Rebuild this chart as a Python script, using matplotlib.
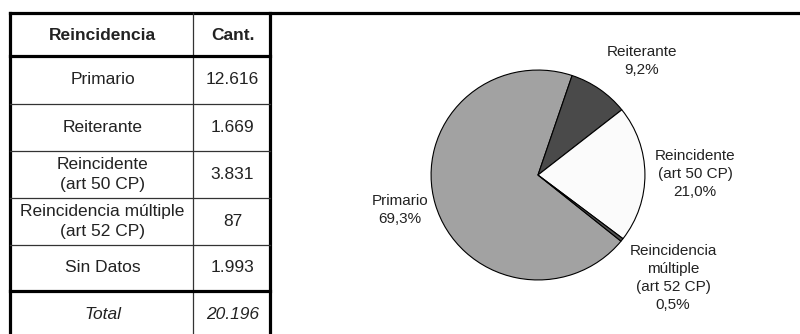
import matplotlib
matplotlib.use("Agg")
import matplotlib.pyplot as plt

plt.rcParams["font.family"] = ["Liberation Sans", "DejaVu Sans"]

# Data
categories = ["Primario", "Reiterante", "Reincidente\n(art 50 CP)",
              "Reincidencia múltiple\n(art 52 CP)", "Sin Datos"]
counts = [12616, 1669, 3831, 87, 1993]
pie_labels = ["Primario", "Reiterante", "Reincidente\n(art 50 CP)",
              "Reincidencia\nmúltiple\n(art 52 CP)"]
pie_counts = counts[:4]
pie_colors = ["#a2a2a2", "#4a4a4a", "#fbfbfb", "#505050"]

W, H = 800, 334
fig = plt.figure(figsize=(W / 100, H / 100), dpi=100)
fig.patch.set_facecolor("white")

# Overlay axes in pixel coordinates for the table and frames
ov = fig.add_axes([0, 0, 1, 1])
ov.set_xlim(0, W)
ov.set_ylim(H, 0)
ov.axis("off")


def thousands(n):
    return f"{n:,}".replace(",", ".")


THICK = 2.3
THIN = 0.9
TXT = "#222222"

# Table geometry
x_left, x_mid, x_right = 10, 193, 270
y_top, y_head = 12.5, 56
row_edges = [56, 104, 151, 198, 245, 291, 340]

# Outer frame of the table and chart panel
ov.plot([x_left, x_left], [y_top, 345], color="black", lw=THICK, solid_capstyle="projecting")
ov.plot([x_right, x_right], [y_top, 345], color="black", lw=THICK, solid_capstyle="projecting")
ov.plot([x_left, W + 5], [y_top, y_top], color="black", lw=THICK, solid_capstyle="projecting")
ov.plot([x_mid, x_mid], [y_top, 345], color="#333333", lw=THIN)
ov.plot([x_left, x_right], [y_head, y_head], color="black", lw=THICK)
for i, y in enumerate(row_edges[1:-1]):
    lw = THICK if i == len(row_edges) - 3 else THIN
    col = "black" if lw == THICK else "#333333"
    ov.plot([x_left, x_right], [y, y], color=col, lw=lw)

cx_l = (x_left + x_mid) / 2 + 1
cx_r = (x_mid + x_right) / 2 + 1
FS_T = 12.5

ov.text(cx_l, 35, "Reincidencia", ha="center", va="center", fontsize=FS_T,
        fontweight="bold", color=TXT)
ov.text(cx_r, 35, "Cant.", ha="center", va="center", fontsize=FS_T,
        fontweight="bold", color=TXT)

for i, (cat, n) in enumerate(zip(categories, counts)):
    yc = (row_edges[i] + row_edges[i + 1]) / 2
    ov.text(cx_l, yc, cat, ha="center", va="center", fontsize=FS_T,
            color=TXT, linespacing=1.47)
    ov.text(cx_r, yc, thousands(n), ha="center", va="center",
            fontsize=FS_T, color=TXT)

total = sum(counts)
yt = (row_edges[-2] + 338) / 2
ov.text(cx_l, yt, "Total", ha="center", va="center", fontsize=FS_T,
        style="italic", color=TXT)
ov.text(cx_r, yt, thousands(total), ha="center", va="center",
        fontsize=FS_T, style="italic", color=TXT)

# Pie chart
pcx, pcy, prx, pry = 538, 175, 108, 106
pax = fig.add_axes([(pcx - prx) / W, (H - pcy - pry) / H, 2 * prx / W, 2 * pry / H])
pie_total = sum(pie_counts)
start = 71.4 + 360 * pie_counts[0] / pie_total
pax.pie(pie_counts, colors=pie_colors, startangle=start, counterclock=False,
        wedgeprops=dict(edgecolor="black", linewidth=0.8))
pax.set_aspect("auto")
pax.set_xlim(-1.01, 1.01)
pax.set_ylim(-1.01, 1.01)
pax.axis("off")

label_pos = [(400, 210), (642, 61), (695, 174), (673, 278)]
FS_P = 11
for lab, n, (lx, ly) in zip(pie_labels, pie_counts, label_pos):
    pct = f"{100 * n / pie_total:.1f}%".replace(".", ",")
    ov.text(lx, ly, f"{lab}\n{pct}", ha="center", va="center", fontsize=FS_P,
            color=TXT, linespacing=1.38, zorder=5)

fig.savefig("out.png", dpi=100, facecolor="white")
